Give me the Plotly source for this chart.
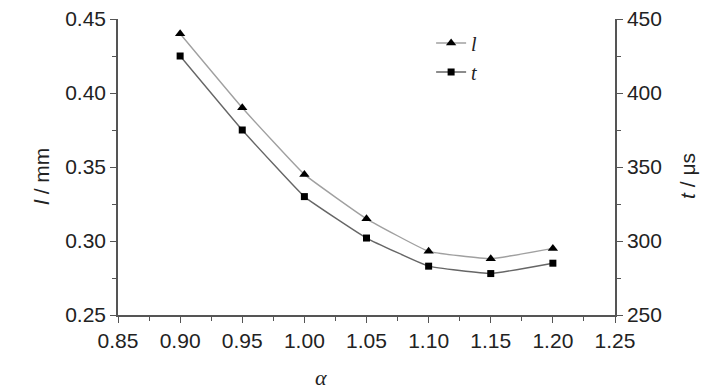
import plotly.graph_objects as go

alpha = [0.90, 0.95, 1.00, 1.05, 1.10, 1.15, 1.20]
l_mm = [0.440, 0.390, 0.345, 0.315, 0.293, 0.288, 0.295]
t_us = [425, 375, 330, 302, 283, 278, 285]

sans = "Liberation Sans, Arial, sans-serif"
serif = "Liberation Serif, Times New Roman, serif"
tickfont = dict(family=sans, size=21, color="#222")
titlefont = dict(family=sans, size=21, color="#222")

fig = go.Figure()
fig.add_trace(go.Scatter(
    x=alpha, y=l_mm, name="<i>l</i>", mode="lines+markers",
    line=dict(color="#a0a0a0", width=1.4, shape="spline", smoothing=0.3),
    marker=dict(symbol="triangle-up", size=9, color="#000"),
    yaxis="y"))
fig.add_trace(go.Scatter(
    x=alpha, y=t_us, name="<i>t</i>", mode="lines+markers",
    line=dict(color="#666", width=1.4, shape="spline", smoothing=0.3),
    marker=dict(symbol="square", size=7, color="#000"),
    yaxis="y2"))

axcommon = dict(showgrid=False, zeroline=False, showline=True, linecolor="#555",
                linewidth=1.5, ticks="outside", ticklen=6, tickcolor="#555",
                tickwidth=1.2, tickfont=tickfont, automargin=False, ticklabelstandoff=0,
                ticklabeloverflow="allow")

# page body adds an 8px offset; margins compensate
fig.update_layout(
    width=728, height=390,
    margin=dict(l=110, r=121, t=11, b=83),
    plot_bgcolor="white", paper_bgcolor="white",
    xaxis=dict(range=[0.85, 1.25], dtick=0.05, tickformat=".2f",
               minor=dict(ticks="outside", ticklen=4, tickcolor="#555", dtick=0.025),
               **axcommon),
    yaxis=dict(range=[0.25, 0.45], dtick=0.05, tickformat=".2f",
               minor=dict(ticks="outside", ticklen=4, tickcolor="#555", dtick=0.025),
               **axcommon),
    yaxis2=dict(range=[250, 450], dtick=50, overlaying="y", side="right",
                minor=dict(ticks="outside", ticklen=4, tickcolor="#555", dtick=25),
                **axcommon),
    legend=dict(x=0.63, y=0.985, xanchor="left", yanchor="top", bgcolor="rgba(0,0,0,0)",
                font=dict(family=serif, size=20, color="#222"), itemwidth=30, tracegroupgap=0),
    showlegend=True,
    annotations=[
        dict(text="<i>α</i>", xref="x", yref="paper", x=1.013, y=-0.21, xanchor="center",
             yanchor="middle", showarrow=False, font=dict(family=serif, size=22, color="#222")),
        dict(text="<i>l</i> / mm", xref="paper", yref="paper", x=-0.153, y=0.47, textangle=-90,
             xanchor="center", yanchor="middle", showarrow=False, font=titlefont),
        dict(text="<i>t</i> / μs", xref="paper", yref="paper", x=1.147, y=0.47, textangle=-90,
             xanchor="center", yanchor="middle", showarrow=False, font=titlefont),
    ],
)

fig.write_html("out.html")
